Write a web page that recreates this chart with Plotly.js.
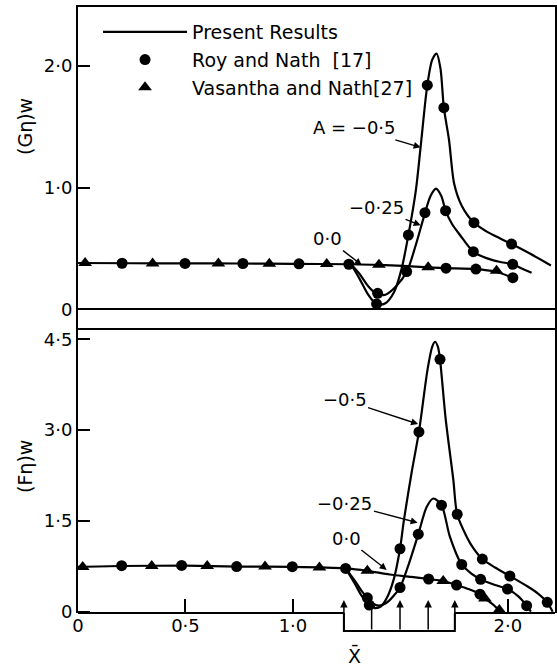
<!DOCTYPE html>
<html><head><meta charset="utf-8">
<script src="https://cdn.plot.ly/plotly-3.0.1.min.js"></script>
<style>html,body{margin:0;padding:0;background:#fff}#chart{width:557px;height:667px}</style>
</head><body><div id="chart"></div>
<script>
// ---------- Top panel: (G eta)w ----------
var xG0   = [0, 0.25, 0.5, 0.75, 1.0, 1.27, 1.4, 1.63, 1.71, 1.85, 1.94, 2.035];
var G0    = [0.38, 0.378, 0.377, 0.376, 0.373, 0.37, 0.365, 0.345, 0.338, 0.33, 0.31, 0.25];
var xGm25 = [1.27, 1.31, 1.35, 1.39, 1.43, 1.48, 1.53, 1.57, 1.614, 1.64, 1.665, 1.69, 1.71, 1.74, 1.777, 1.839, 1.9, 1.96, 2.022, 2.07, 2.11];
var Gm25  = [0.37, 0.29, 0.19, 0.125, 0.12, 0.19, 0.31, 0.52, 0.79, 0.93, 0.99, 0.93, 0.81, 0.70, 0.61, 0.473, 0.42, 0.39, 0.37, 0.33, 0.30];
var xGm5  = [1.27, 1.31, 1.35, 1.39, 1.43, 1.47, 1.505, 1.537, 1.572, 1.594, 1.625, 1.648, 1.668, 1.686, 1.702, 1.726, 1.75, 1.785, 1.842, 1.9, 1.96, 2.017, 2.1, 2.2];
var Gm5   = [0.37, 0.25, 0.12, 0.04, 0.05, 0.14, 0.33, 0.61, 0.98, 1.335, 1.84, 2.05, 2.10, 1.98, 1.655, 1.39, 1.03, 0.85, 0.71, 0.64, 0.585, 0.536, 0.46, 0.36];
// Roy and Nath [17] (circles), top
var xG0c   = [0.205, 0.498, 0.767, 1.028, 1.26, 1.712, 1.851, 2.023];
var G0c    = [0.378, 0.377, 0.376, 0.373, 0.37, 0.338, 0.33, 0.26];
var xGm25c = [1.394, 1.529, 1.614, 1.71, 1.839, 2.022];
var Gm25c  = [0.131, 0.31, 0.793, 0.81, 0.473, 0.37];
var xGm5c  = [1.389, 1.537, 1.625, 1.702, 1.842, 2.017];
var Gm5c   = [0.044, 0.61, 1.84, 1.655, 0.711, 0.536];
// Vasantha and Nath [27] (triangles), top
var xG0t = [0.033, 0.347, 0.653, 0.890, 1.157, 1.400, 1.629, 1.947];
var G0t  = [0.38, 0.377, 0.376, 0.375, 0.372, 0.365, 0.345, 0.317];

// ---------- Bottom panel: (F eta)w ----------
var xF0   = [0, 0.2, 0.5, 0.75, 1.0, 1.245, 1.346, 1.45, 1.55, 1.631, 1.699, 1.761, 1.82, 1.87, 1.893, 1.93, 1.965];
var F0    = [0.74, 0.755, 0.76, 0.745, 0.74, 0.715, 0.675, 0.615, 0.575, 0.54, 0.507, 0.44, 0.37, 0.29, 0.22, 0.12, 0.0];
var xFm25 = [1.245, 1.29, 1.32, 1.346, 1.37, 1.40, 1.44, 1.47, 1.498, 1.54, 1.583, 1.622, 1.653, 1.691, 1.73, 1.785, 1.83, 1.873, 1.94, 1.998, 2.05, 2.087, 2.107];
var Fm25  = [0.715, 0.5, 0.34, 0.23, 0.14, 0.1, 0.16, 0.27, 0.40, 0.8, 1.28, 1.73, 1.87, 1.76, 1.24, 0.78, 0.63, 0.535, 0.44, 0.375, 0.25, 0.10, 0.0];
var xFm5  = [1.245, 1.29, 1.32, 1.355, 1.38, 1.41, 1.44, 1.47, 1.498, 1.516, 1.552, 1.586, 1.626, 1.648, 1.661, 1.674, 1.684, 1.71, 1.746, 1.764, 1.808, 1.839, 1.881, 1.94, 2.009, 2.09, 2.14, 2.183, 2.208];
var Fm5   = [0.715, 0.45, 0.26, 0.11, 0.06, 0.09, 0.25, 0.55, 1.04, 1.51, 2.3, 2.97, 4.0, 4.38, 4.46, 4.38, 4.17, 3.2, 2.18, 1.61, 1.24, 1.05, 0.87, 0.73, 0.59, 0.42, 0.3, 0.155, 0.0];
var xF0c   = [0.203, 0.482, 0.738, 0.997, 1.245, 1.631, 1.761, 1.870];
var F0c    = [0.76, 0.765, 0.745, 0.743, 0.715, 0.54, 0.44, 0.29];
var xFm25c = [1.346, 1.498, 1.583, 1.691, 1.785, 1.873, 1.998, 2.087];
var Fm25c  = [0.23, 0.40, 1.28, 1.76, 0.78, 0.535, 0.375, 0.10];
var xFm5c  = [1.355, 1.498, 1.586, 1.684, 1.764, 1.881, 2.009, 2.183];
var Fm5c   = [0.11, 1.04, 2.97, 4.17, 1.61, 0.87, 0.59, 0.155];
var xF0t = [0.022, 0.343, 0.601, 0.870, 1.123, 1.346, 1.699, 1.893, 1.960];
var F0t  = [0.74, 0.755, 0.755, 0.745, 0.73, 0.675, 0.507, 0.22, 0.03];

// bump region arrows on the x axis
var bumpX = [1.237, 1.366, 1.498, 1.629, 1.753];

// tick labels
var xTickVals = [0, 0.5, 1, 2];
var xTickText = ['0', '0·5', '1·0', '2·0'];
var gTickVals = [0, 1, 2];
var gTickText = ['0', '1·0', '2·0'];
var fTickVals = [0, 1.5, 3, 4.5];
var fTickText = ['0', '1·5', '3·0', '4·5'];

var seriesNames = ['Present Results', 'Roy and Nath\u00a0\u00a0[17]', 'Vasantha and Nath[27]'];
var curveLabels = ['A = \u22120·5', '\u22120·25', '0·0', '\u22120·5', '\u22120·25', '0·0'];
var axisTitles = ['(G\u03b7)w', '(F\u03b7)w', 'X\u0304'];

var FONT = 'DejaVu Sans, sans-serif';
var XMAX = 2.219;

function lineT(x, y, xa, ya, show) {
  return {x: x, y: y, xaxis: xa, yaxis: ya, type: 'scatter', mode: 'lines',
    line: {color: '#000', width: 2.2, shape: 'spline', smoothing: 0.8},
    name: seriesNames[0], legendgroup: 'l', showlegend: !!show, hoverinfo: 'skip'};
}
function markT(x, y, xa, ya, sym, idx, show) {
  return {x: x, y: y, xaxis: xa, yaxis: ya, type: 'scatter', mode: 'markers',
    marker: {symbol: sym, color: '#000', size: sym === 'circle' ? 11 : 12, line: {width: 0}},
    name: seriesNames[idx], legendgroup: 'g' + idx, showlegend: !!show, hoverinfo: 'skip'};
}

var data = [
  lineT(xG0, G0, 'x2', 'y2', true),
  lineT(xGm25, Gm25, 'x2', 'y2'),
  lineT(xGm5, Gm5, 'x2', 'y2'),
  lineT(xF0, F0, 'x', 'y'),
  lineT(xFm25, Fm25, 'x', 'y'),
  lineT(xFm5, Fm5, 'x', 'y'),
  markT(xG0c, G0c, 'x2', 'y2', 'circle', 1, true),
  markT(xGm25c, Gm25c, 'x2', 'y2', 'circle', 1),
  markT(xGm5c, Gm5c, 'x2', 'y2', 'circle', 1),
  markT(xF0c, F0c, 'x', 'y', 'circle', 1),
  markT(xFm25c, Fm25c, 'x', 'y', 'circle', 1),
  markT(xFm5c, Fm5c, 'x', 'y', 'circle', 1),
  markT(xG0t, G0t, 'x2', 'y2', 'triangle-up', 2, true),
  markT(xF0t, F0t, 'x', 'y', 'triangle-up', 2)
];

var split = (613 - 328) / 606;
var tickFont = {family: FONT, size: 18, color: '#000'};
var annFont = {family: FONT, size: 18, color: '#000'};
var titleFont = {family: FONT, size: 19, color: '#000'};

function labelAnn(i, xa, ya, tip, txt) {
  return {xref: xa, yref: ya, axref: xa, ayref: ya, x: tip[0], y: tip[1], ax: txt[0], ay: txt[1],
    text: curveLabels[i], showarrow: true, arrowhead: 2, arrowsize: 1, arrowwidth: 1.4,
    arrowcolor: '#000', standoff: 0, font: annFont};
}

var annotations = [
  labelAnn(0, 'x2', 'y2', [1.594, 1.33], [1.284, 1.489]),
  labelAnn(1, 'x2', 'y2', [1.594, 0.69], [1.389, 0.832]),
  labelAnn(2, 'x2', 'y2', [1.32, 0.364], [1.16, 0.58]),
  labelAnn(3, 'x', 'y', [1.582, 3.1], [1.24, 3.50]),
  labelAnn(4, 'x', 'y', [1.58, 1.47], [1.242, 1.79]),
  labelAnn(5, 'x', 'y', [1.436, 0.69], [1.247, 1.217]),
  {xref: 'paper', yref: 'paper', x: (25 - 78) / 477, y: (613 - 127) / 606, text: axisTitles[0],
   textangle: -90, showarrow: false, xanchor: 'center', yanchor: 'middle', font: titleFont},
  {xref: 'paper', yref: 'paper', x: (25 - 78) / 477, y: (613 - 467) / 606, text: axisTitles[1],
   textangle: -90, showarrow: false, xanchor: 'center', yanchor: 'middle', font: titleFont},
  {xref: 'x', yref: 'paper', x: 1.284, y: -(655 - 613) / 606, text: axisTitles[2], showarrow: false,
   xanchor: 'center', yanchor: 'middle', font: titleFont}
];
var tipY = (613 - 600) / 606;
bumpX.forEach(function (bx) {
  annotations.push({xref: 'x', yref: 'paper', x: bx, y: tipY, ax: 0, ay: 31, text: '',
    showarrow: true, arrowhead: 2, arrowsize: 1, arrowwidth: 1.5, arrowcolor: '#000', standoff: 0});
});

var brY = -(631 - 613) / 606;
var shapes = [
  {type: 'line', xref: 'x', yref: 'paper', x0: 0, x1: bumpX[0], y0: 0, y1: 0, line: {color: '#000', width: 2}},
  {type: 'line', xref: 'x', yref: 'paper', x0: bumpX[bumpX.length - 1], x1: XMAX, y0: 0, y1: 0, line: {color: '#000', width: 2}},
  {type: 'path', xref: 'x', yref: 'paper',
   path: 'M' + bumpX[0] + ',0 L' + bumpX[0] + ',' + brY + ' L' + bumpX[bumpX.length - 1] + ',' + brY + ' L' + bumpX[bumpX.length - 1] + ',0',
   line: {color: '#000', width: 2}}
];

var layout = {
  width: 557, height: 667,
  margin: {l: 78, r: 2, t: 7, b: 54, pad: 0},
  paper_bgcolor: '#fff', plot_bgcolor: '#fff',
  font: {family: FONT, color: '#000'},
  showlegend: true,
  legend: {x: 0.042, xanchor: 'left', y: 0.99, yanchor: 'top', itemwidth: 84,
    font: {family: FONT, size: 19, color: '#000'}, bgcolor: 'rgba(0,0,0,0)', borderwidth: 0,
    tracegroupgap: 0, traceorder: 'normal'},
  xaxis: {domain: [0, 1], range: [0, XMAX], anchor: 'y', showline: false, zeroline: false, showgrid: false,
    ticks: 'inside', ticklen: 14, tickwidth: 2, tickcolor: '#000',
    tickmode: 'array', tickvals: xTickVals, ticktext: xTickText, tickfont: tickFont},
  yaxis: {domain: [0, split], range: [-0.0215, 4.687], anchor: 'x', showline: true, mirror: true,
    linecolor: '#000', linewidth: 2, zeroline: false, showgrid: false,
    ticks: 'inside', ticklen: 12, tickwidth: 2, tickcolor: '#000',
    tickmode: 'array', tickvals: fTickVals, ticktext: fTickText, tickfont: tickFont},
  xaxis2: {domain: [0, 1], range: [0, XMAX], anchor: 'y2', matches: 'x', showline: true, mirror: true,
    linecolor: '#000', linewidth: 2, zeroline: false, showgrid: false, ticks: '', showticklabels: false},
  yaxis2: {domain: [split, 1], range: [-0.1535, 2.482], anchor: 'x2', showline: true, mirror: true,
    linecolor: '#000', linewidth: 2, zeroline: true, zerolinecolor: '#000', zerolinewidth: 2, showgrid: false,
    ticks: 'inside', ticklen: 12, tickwidth: 2, tickcolor: '#000',
    tickmode: 'array', tickvals: gTickVals, ticktext: gTickText, tickfont: tickFont},
  annotations: annotations,
  shapes: shapes
};

Plotly.newPlot('chart', data, layout, {staticPlot: true, displayModeBar: false});
</script></body></html>
